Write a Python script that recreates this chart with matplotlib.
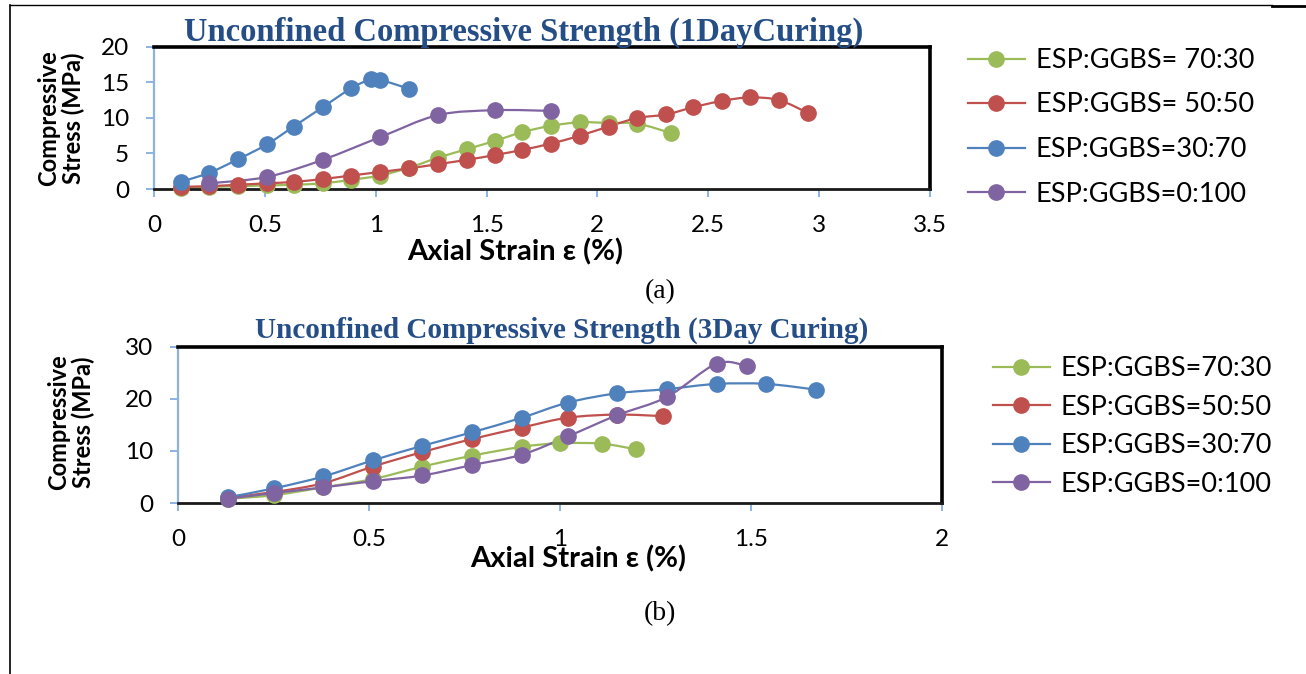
import numpy as np
import matplotlib
matplotlib.use('Agg')
from matplotlib import pyplot as plt
from matplotlib.path import Path
from matplotlib.patches import PathPatch
from matplotlib.lines import Line2D

# ---- data, 1 day curing ----
d1_green_x = [0.12, 0.25, 0.38, 0.51, 0.63, 0.76, 0.89, 1.02, 1.15, 1.28, 1.41, 1.54, 1.66, 1.79, 1.92, 2.05, 2.18, 2.33]
d1_green_y = [0.2, 0.3, 0.4, 0.5, 0.6, 0.8, 1.3, 1.9, 3.0, 4.4, 5.6, 6.8, 8.0, 8.9, 9.4, 9.3, 9.2, 7.9]
d1_red_x = [0.12, 0.25, 0.38, 0.51, 0.63, 0.76, 0.89, 1.02, 1.15, 1.28, 1.41, 1.54, 1.66, 1.79, 1.92, 2.05, 2.18, 2.31, 2.43, 2.56, 2.69, 2.82, 2.95]
d1_red_y = [0.3, 0.4, 0.6, 0.8, 1.0, 1.4, 1.9, 2.4, 2.9, 3.5, 4.1, 4.8, 5.5, 6.4, 7.5, 8.8, 10.0, 10.5, 11.5, 12.4, 12.9, 12.5, 10.7]
d1_blue_x = [0.12, 0.25, 0.38, 0.51, 0.63, 0.76, 0.89, 0.98, 1.02, 1.15]
d1_blue_y = [1.0, 2.3, 4.2, 6.3, 8.8, 11.5, 14.2, 15.5, 15.4, 14.1]
d1_purple_x = [0.25, 0.51, 0.76, 1.02, 1.28, 1.54, 1.79]
d1_purple_y = [0.8, 1.7, 4.1, 7.3, 10.4, 11.1, 11.0]

# ---- data, 3 day curing ----
d3_green_x = [0.13, 0.25, 0.38, 0.51, 0.64, 0.77, 0.9, 1.0, 1.11, 1.2]
d3_green_y = [0.8, 1.5, 3.0, 4.6, 7.0, 9.1, 10.8, 11.5, 11.4, 10.3]
d3_red_x = [0.13, 0.25, 0.38, 0.51, 0.64, 0.77, 0.9, 1.02, 1.15, 1.27]
d3_red_y = [1.0, 2.1, 3.8, 7.0, 9.8, 12.3, 14.5, 16.4, 17.0, 16.7]
d3_blue_x = [0.13, 0.25, 0.38, 0.51, 0.64, 0.77, 0.9, 1.02, 1.15, 1.28, 1.41, 1.54, 1.67]
d3_blue_y = [1.1, 2.8, 5.1, 8.2, 11.0, 13.6, 16.4, 19.3, 21.1, 21.9, 22.9, 22.9, 21.8]
d3_purple_x = [0.13, 0.25, 0.38, 0.51, 0.64, 0.77, 0.9, 1.02, 1.15, 1.28, 1.41, 1.49]
d3_purple_y = [0.8, 1.9, 3.0, 4.2, 5.3, 7.3, 9.3, 12.8, 16.9, 20.4, 26.8, 26.3]

labels_1 = ['ESP:GGBS= 70:30', 'ESP:GGBS= 50:50', 'ESP:GGBS=30:70', 'ESP:GGBS=0:100']
labels_3 = ['ESP:GGBS=70:30', 'ESP:GGBS=50:50', 'ESP:GGBS=30:70', 'ESP:GGBS=0:100']
colors = ['#9BBB59', '#C0504D', '#4F81BD', '#8064A2']

W, H = 1306, 674
SANS = 'Lato'
SERIF = 'Liberation Serif'
AXBLUE = '#8DB3E2'


def fx(px):
    return px / W


def fy(py):
    return 1 - py / H


def smooth_line(ax, x, y, color):
    # excel style smoothed line (bezier through the points)
    x = np.asarray(x, float)
    y = np.asarray(y, float)
    n = len(x)
    verts = [(x[0], y[0])]
    codes = [Path.MOVETO]
    for i in range(n - 1):
        x0, y0 = (x[i - 1], y[i - 1]) if i > 0 else (x[i], y[i])
        x3, y3 = (x[i + 2], y[i + 2]) if i + 2 < n else (x[i + 1], y[i + 1])
        c1 = (x[i] + (x[i + 1] - x0) / 6, y[i] + (y[i + 1] - y0) / 6)
        c2 = (x[i + 1] - (x3 - x[i]) / 6, y[i + 1] - (y3 - y[i]) / 6)
        verts += [c1, c2, (x[i + 1], y[i + 1])]
        codes += [Path.CURVE4] * 3
    ax.add_patch(PathPatch(Path(verts, codes), fill=False, edgecolor=color, lw=1.6, clip_on=False))


def style_axes(ax):
    for s in ['top', 'right']:
        ax.spines[s].set_color('black')
        ax.spines[s].set_linewidth(2.6)
    ax.spines['left'].set_color(AXBLUE)
    ax.spines['left'].set_linewidth(1.6)
    ax.spines['bottom'].set_color('#1a1a1a')
    ax.spines['bottom'].set_linewidth(2.0)
    ax.tick_params(axis='both', colors=AXBLUE, length=6, width=1.4, direction='out',
                   labelcolor='black', labelsize=17.5)
    ax.tick_params(axis='y', pad=12)
    ax.tick_params(axis='x', pad=13)
    for t in ax.get_xticklabels() + ax.get_yticklabels():
        t.set_fontfamily(SANS)


fig = plt.figure(figsize=(W / 100, H / 100), dpi=100)

# page border lines
fig.add_artist(Line2D([fx(10), fx(10)], [fy(5), 0], color='black', lw=1.2))
fig.add_artist(Line2D([fx(10), fx(1272)], [fy(5), fy(5)], color='black', lw=1.0))
fig.add_artist(Line2D([fx(1272), 1], [fy(6), fy(6)], color='black', lw=2.0))

# ---- top chart ----
ax1 = fig.add_axes([fx(154), fy(189), fx(930 - 154), (189 - 47) / H])
series1 = [(d1_green_x, d1_green_y), (d1_red_x, d1_red_y), (d1_blue_x, d1_blue_y), (d1_purple_x, d1_purple_y)]
for (x, y), c in zip(series1, colors):
    smooth_line(ax1, x, y, c)
    ax1.plot(x, y, 'o', color=c, ms=11, mec=c, clip_on=False, zorder=3)
ax1.set_xlim(0, 3.5)
ax1.set_ylim(0, 20)
ax1.set_xticks(np.arange(0, 3.51, 0.5))
ax1.set_xticklabels(['0', '0.5', '1', '1.5', '2', '2.5', '3', '3.5'])
ax1.set_yticks([0, 5, 10, 15, 20])
style_axes(ax1)

# ---- bottom chart ----
ax2 = fig.add_axes([fx(178), fy(503), fx(942 - 178), (503 - 347) / H])
series3 = [(d3_green_x, d3_green_y), (d3_red_x, d3_red_y), (d3_blue_x, d3_blue_y), (d3_purple_x, d3_purple_y)]
for (x, y), c in zip(series3, colors):
    smooth_line(ax2, x, y, c)
    ax2.plot(x, y, 'o', color=c, ms=11, mec=c, clip_on=False, zorder=3)
ax2.set_xlim(0, 2)
ax2.set_ylim(0, 30)
ax2.set_xticks([0, 0.5, 1, 1.5, 2])
ax2.set_xticklabels(['0', '0.5', '1', '1.5', '2'])
ax2.set_yticks([0, 10, 20, 30])
style_axes(ax2)

# titles and labels
title_kw = dict(family=SERIF, weight='bold', color='#254E87', ha='center', va='center')
fig.text(fx(524), fy(32), 'Unconfined Compressive Strength (1DayCuring)', fontsize=23.5, **title_kw)
fig.text(fx(562), fy(330), 'Unconfined Compressive Strength (3Day Curing)', fontsize=21, **title_kw)

lab_kw = dict(family=SANS, weight='bold', ha='center', va='center')
fig.text(fx(61), fy(118), 'Compressive\nStress (MPa)', rotation=90, linespacing=1.05, fontsize=17, **lab_kw)
fig.text(fx(71), fy(422), 'Compressive\nStress (MPa)', rotation=90, linespacing=1.05, fontsize=17, **lab_kw)
fig.text(fx(515), fy(252), 'Axial Strain ε (%)', fontsize=21, **lab_kw)
fig.text(fx(578), fy(559), 'Axial Strain ε (%)', fontsize=21, **lab_kw)

fig.text(fx(660), fy(292), '(a)', family=SERIF, fontsize=20, ha='center', va='center')
fig.text(fx(660), fy(614), '(b)', family=SERIF, fontsize=20, ha='center', va='center')

# legends
def handles():
    return [Line2D([0], [0], color=c, lw=1.6, marker='o', ms=11, mec=c) for c in colors]

fig.legend(handles(), labels_1, loc='upper left', bbox_to_anchor=(fx(968), fy(48)),
           frameon=False, prop={'family': SANS, 'size': 19.5}, handlelength=2.1,
           handletextpad=0.4, labelspacing=0.72, borderpad=0, borderaxespad=0)
fig.legend(handles(), labels_3, loc='upper left', bbox_to_anchor=(fx(993), fy(356)),
           frameon=False, prop={'family': SANS, 'size': 19.5}, handlelength=2.1,
           handletextpad=0.4, labelspacing=0.5, borderpad=0, borderaxespad=0)

fig.savefig('out.png', dpi=100)
